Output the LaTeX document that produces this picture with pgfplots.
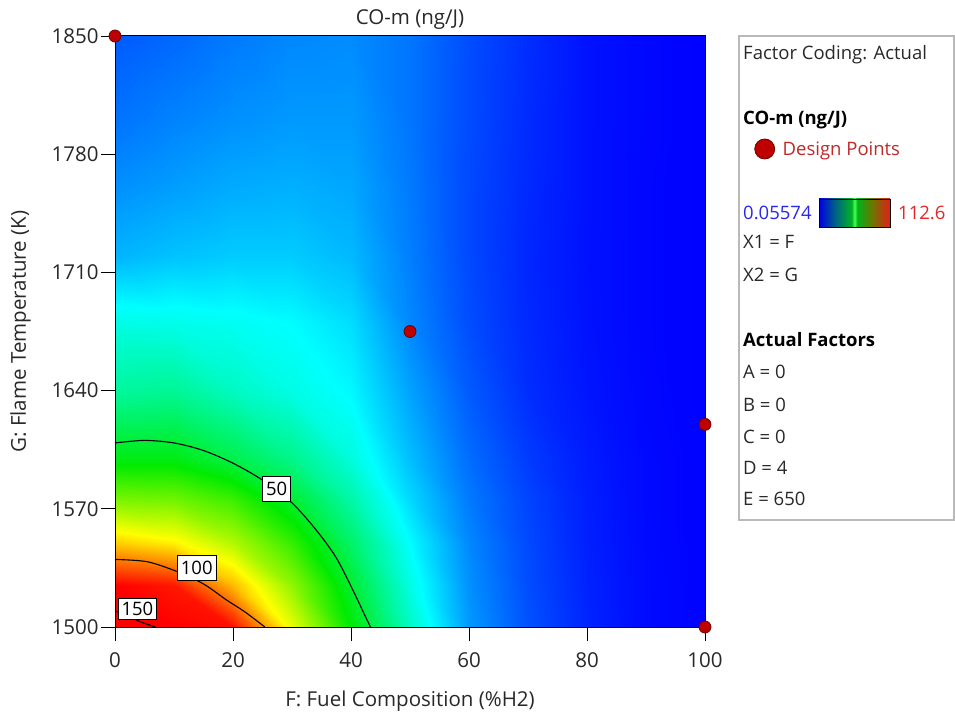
\documentclass[border=0pt]{standalone}
\usepackage{pgfplots}
\pgfplotsset{compat=1.18}
\usepackage{fontspec}
\setmainfont{Open Sans}
\definecolor{ptred}{RGB}{190,0,0}
\definecolor{ptedge}{RGB}{110,0,0}
\definecolor{txt}{RGB}{40,40,40}
\definecolor{lowblue}{RGB}{40,40,235}
\definecolor{hired}{RGB}{225,40,40}
\definecolor{dpred}{RGB}{190,40,40}
\newcommand\F{\fontsize{18.5}{22}\selectfont}
\newcommand\G{\fontsize{20.5}{24}\selectfont}
\pgfdeclarehorizontalshading{cbar}{100bp}{rgb(0bp)=(0,0,0.9); rgb(25bp)=(0,0,0.9); rgb(37bp)=(0,0.4,0.5); rgb(48bp)=(0,0.7,0.15); rgb(50bp)=(0.3,1,0.3); rgb(52bp)=(0,0.7,0.1); rgb(63bp)=(0.45,0.45,0); rgb(75bp)=(0.88,0.12,0.1); rgb(100bp)=(0.88,0.12,0.1)}
\begin{document}
\begin{tikzpicture}[x=1pt,y=1pt]
\useasboundingbox (0,0) rectangle (955,713);
\begin{axis}[
  at={(115pt,86pt)}, anchor=south west,
  scale only axis, width=590pt, height=591pt,
  xmin=0, xmax=100, ymin=1500, ymax=1850,
  xtick={0,20,...,100}, ytick={1500,1570,...,1850},
  xtick pos=bottom, ytick pos=left,
  tick align=outside, major tick length=14pt,
  tick style={black, line width=0.9pt},
  axis line style={black, line width=1pt},
  axis on top,
  clip=false,
  colormap={de}{rgb255=(0,0,255) rgb255=(0,255,255) rgb255=(0,235,0) rgb255=(255,255,0) rgb255=(255,0,0)},
  point meta min=0.05574, point meta max=112.6,
  ticklabel style={font=\G, text=txt},
  xticklabel style={yshift=-8pt},
  yticklabel style={xshift=1pt},
  /pgf/number format/assume math mode=true,
  /pgf/number format/set thousands separator={},
  every axis title shift=0pt,
  title={CO-m (ng/J)}, title style={font=\G, text=txt, at={(axis description cs:0.5,1.0285)}, anchor=center},
  xlabel={F: Fuel Composition (\%H2)}, xlabel style={font=\G, text=txt, at={(axis description cs:0.5,-0.126)}, anchor=center},
  ylabel={G: Flame Temperature (K)}, ylabel style={font=\G, text=txt, at={(axis description cs:-0.16,0.5)}, anchor=center},
  legend style={at={(axis description cs:1.0839,0.8088)}, anchor=west, draw=none, fill=none, inner sep=0pt, font=\F, text=dpred, /tikz/every odd column/.append style={column sep=6pt}},
  legend cell align=left,
]
\addplot[surf, shader=interp, point meta=explicit, mesh/cols=11, forget plot] table[x=x, y=y, meta=v] {
x y v
0 1500 166
10 1500 138
20 1500 111
30 1500 82
40 1500 56
50 1500 34.5
60 1500 17
70 1500 9
80 1500 4
90 1500 1.2
100 1500 0.3

0 1525 121
10 1525 110
20 1525 92
30 1525 72
40 1525 51
50 1525 31
60 1525 16
70 1525 8.5
80 1525 3.8
90 1525 1.2
100 1525 0.3

0 1550 90
10 1550 86
20 1550 76
30 1550 62
40 1550 45
50 1550 28
60 1550 15
70 1550 8
80 1550 3.5
90 1550 1.1
100 1550 0.3

0 1575 70
10 1575 69
20 1575 63
30 1575 51
40 1575 38
50 1575 24
60 1575 13.5
70 1575 7.5
80 1575 3.3
90 1575 1.0
100 1575 0.3

0 1600 54
10 1600 54
20 1600 48
30 1600 41
40 1600 32
50 1600 21
60 1600 12
70 1600 6.5
80 1600 3
90 1600 1
100 1600 0.3

0 1640 39
10 1640 40
20 1640 35
30 1640 31
40 1640 27.5
50 1640 18
60 1640 10
70 1640 5
80 1640 2.3
90 1640 0.8
100 1640 0.2

0 1680 31
10 1680 30.5
20 1680 29.5
30 1680 28
40 1680 24.5
50 1680 15
60 1680 8.5
70 1680 4.5
80 1680 2
90 1680 0.7
100 1680 0.2

0 1720 20
10 1720 21.5
20 1720 22.5
30 1720 22.5
40 1720 20.5
50 1720 14
60 1720 8
70 1720 4.2
80 1720 1.9
90 1720 0.7
100 1720 0.2

0 1760 16
10 1760 17.5
20 1760 19
30 1760 19.5
40 1760 18.5
50 1760 13.5
60 1760 8
70 1760 4.5
80 1760 2
90 1760 0.7
100 1760 0.2

0 1800 12.8
10 1800 14.5
20 1800 16
30 1800 17
40 1800 17
50 1800 13
60 1800 8.3
70 1800 4.7
80 1800 2
90 1800 0.8
100 1800 0.2

0 1850 10
10 1850 11.5
20 1850 13.5
30 1850 15
40 1850 15.5
50 1850 13
60 1850 8.5
70 1850 5
80 1850 2
90 1850 0.8
100 1850 0.2
};
% contour lines
\addplot[black, line width=1.1pt, smooth, forget plot] coordinates {(0,1609) (5,1610.5) (10,1609) (15,1604.5) (20,1597) (25,1587) (30,1573.5) (34.2,1557) (37.5,1541) (40.3,1522) (42.2,1508) (43.3,1500)};
\addplot[black, line width=1.1pt, smooth, forget plot] coordinates {(0,1540) (5.4,1538.7) (10.4,1533) (15,1525.5) (18.9,1516) (22,1509) (25.4,1500)};
\addplot[black, line width=1.1pt, smooth, forget plot] coordinates {(0,1509.5) (2,1507) (4,1503.5) (6.8,1500)};
\begin{scope}[every node/.style={fill=white, draw=black, line width=0.7pt, inner xsep=3.5pt, inner ysep=6pt, text height=13pt, text depth=0pt, font=\F}]
\node at (axis cs:27.4,1581.7) {50};
\node at (axis cs:13.85,1535.1) {100};
\node[inner ysep=4pt] at (axis cs:3.8,1510.7) {150};
\end{scope}
% design points
\addplot[only marks, mark=*, mark size=6pt, mark options={fill=ptred, draw=ptedge, line width=0.8pt}, forget plot] coordinates {(0,1850) (50,1675) (100,1620) (100,1500)};
\addlegendimage{only marks, mark=*, mark size=10pt, mark options={fill=ptred, draw=ptedge, line width=0.8pt}}
\addlegendentry{Design Points}
\end{axis}
% side panel
\draw[gray!55, line width=1.3pt] (739,677) rectangle (954,193);
\begin{scope}[every node/.style={anchor=west, inner sep=0pt, font=\F, text=txt}]
\node at (743,658) {Factor Coding: Actual};
\node[font=\F\bfseries, text=black] at (743,593) {CO-m (ng/J)};
\node[text=lowblue] at (743,500) {0.05574};
\node[text=hired] at (898,500) {112.6};
\node at (743,471) {X1 = F};
\node at (743,438) {X2 = G};
\node[font=\F\bfseries, text=black] at (743,373) {Actual Factors};
\node at (743,341) {A = 0};
\node at (743,308) {B = 0};
\node at (743,276) {C = 0};
\node at (743,245) {D = 4};
\node at (743,214) {E = 650};
\end{scope}
\shade[shading=cbar] (819,486) rectangle (890,514);
\draw[black, line width=0.8pt] (819,486) rectangle (890,514);
\end{tikzpicture}
\end{document}
